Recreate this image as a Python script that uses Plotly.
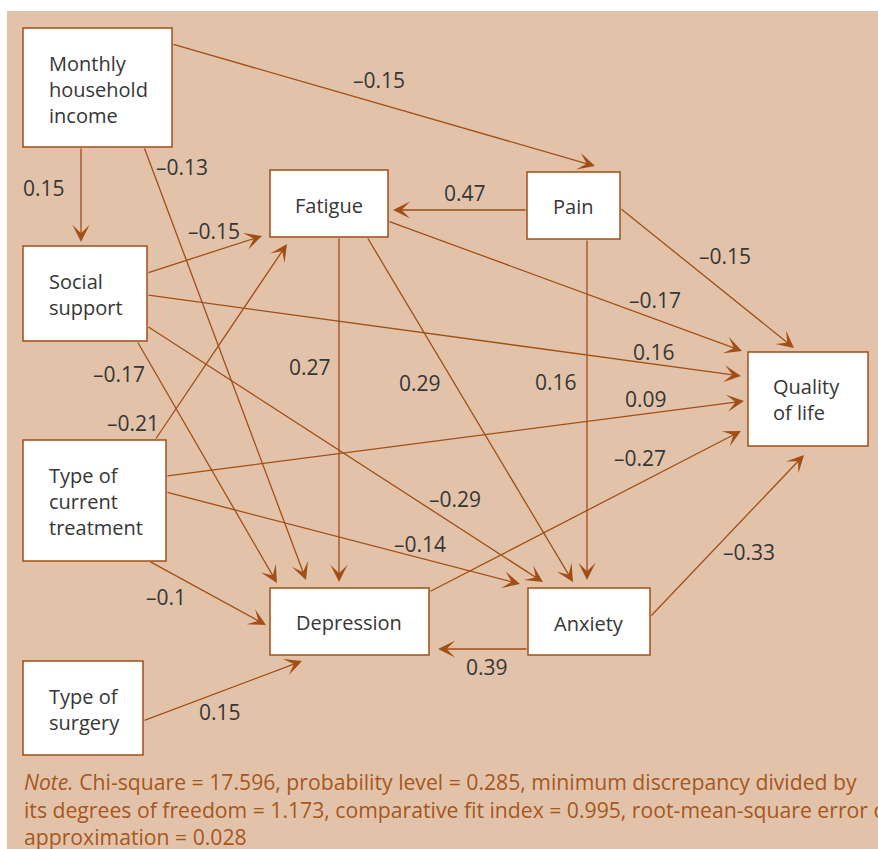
import plotly.graph_objects as go

# ---------------- data ----------------
node_names = ["income", "social", "treatment", "surgery", "fatigue", "pain",
              "depression", "anxiety", "qol"]
node_labels = ["Monthly<br>household<br>income", "Social<br>support",
               "Type of<br>current<br>treatment", "Type of<br>surgery",
               "Fatigue", "Pain", "Depression", "Anxiety", "Quality<br>of life"]

path_from = ["income", "income", "income", "social", "social", "social", "social",
             "treatment", "treatment", "treatment", "treatment", "surgery",
             "fatigue", "fatigue", "fatigue", "pain", "pain", "pain",
             "depression", "anxiety", "anxiety"]
path_to = ["pain", "social", "depression", "fatigue", "qol", "anxiety", "depression",
           "fatigue", "qol", "anxiety", "depression", "depression",
           "depression", "anxiety", "qol", "fatigue", "qol", "anxiety",
           "qol", "qol", "depression"]
coefficients = ["–0.15", "0.15", "–0.13", "–0.15", "0.16", "–0.29", "–0.17",
                "–0.21", "0.09", "–0.14", "–0.1", "0.15",
                "0.27", "0.29", "–0.17", "0.47", "–0.15", "0.16",
                "–0.27", "–0.33", "0.39"]

note_lines = [
    "<i>Note.</i> Chi-square = 17.596, probability level = 0.285, minimum discrepancy divided by",
    "its degrees of freedom = 1.173, comparative fit index = 0.995, root-mean-square error of",
    "approximation = 0.028",
]

# ---------------- layout geometry (pixel canvas) ----------------
boxes = {
    "income": (23, 28, 172, 147),
    "social": (23, 246, 147, 341),
    "treatment": (23, 440, 166, 561),
    "surgery": (23, 661, 143, 755),
    "fatigue": (270, 170, 388, 237),
    "pain": (527, 172, 620, 239),
    "depression": (270, 588, 429, 655),
    "anxiety": (528, 588, 650, 655),
    "qol": (748, 352, 868, 446),
}
label_pos = {  # (x, y, anchor)
    "income": (47, 89, "left"),
    "social": (47, 294, "left"),
    "treatment": (47, 501, "left"),
    "surgery": (47, 709, "left"),
    "fatigue": (329, 205, "center"),
    "pain": (573, 206, "center"),
    "depression": (349, 622, "center"),
    "anxiety": (589, 623, "center"),
    "qol": (771, 399, "left"),
}
# (tail x, tail y, tip x, tip y, coef label x, coef label y)
path_geom = [
    (172, 44, 595, 166, 379, 80),
    (81, 147, 81, 242, 44, 188),
    (144, 147, 306, 580, 182, 167),
    (147, 273, 262, 236, 214, 231),
    (147, 295, 741, 376, 654, 352),
    (147, 326, 543, 582, 455, 499),
    (137, 341, 277, 583, 119, 374),
    (155, 440, 287, 244, 133, 423),
    (166, 476, 744, 401, 646, 399),
    (166, 492, 520, 584, 420, 544),
    (149, 561, 266, 625, 166, 597),
    (143, 721, 302, 661, 220, 712),
    (339, 237, 339, 582, 310, 367),
    (367, 237, 573, 582, 420, 383),
    (388, 221, 742, 351, 655, 300),
    (527, 210, 393, 210, 465, 193),
    (620, 208, 794, 348, 725, 256),
    (587, 239, 587, 580, 556, 382),
    (429, 592, 741, 431, 640, 458),
    (650, 617, 804, 455, 749, 552),
    (528, 649, 438, 649, 487, 667),
]

W, H = 878, 849
TAN = "#E2C3A9"
BROWN = "#A14F17"
TEXT = "#363636"
FONT = "Open Sans"

fig = go.Figure()
fig.add_trace(go.Scatter(x=[0, W], y=[0, H], mode="markers",
                         marker=dict(opacity=0), hoverinfo="skip", showlegend=False))

shapes = [dict(type="rect", x0=7, y0=11, x1=W + 5, y1=H + 5, xref="x", yref="y",
               fillcolor=TAN, line=dict(width=0), layer="below")]
annotations = []

for (tx, ty, hx, hy, lx, ly), coef in zip(path_geom, coefficients):
    annotations.append(dict(x=hx, y=hy, ax=tx, ay=ty, xref="x", yref="y",
                            axref="x", ayref="y", text="", showarrow=True,
                            arrowhead=3, arrowsize=2.2, arrowwidth=1.3,
                            arrowcolor=BROWN, standoff=0, startstandoff=0))
    annotations.append(dict(x=lx, y=ly, xref="x", yref="y", text=coef,
                            showarrow=False, font=dict(family=FONT, size=21, color=TEXT),
                            xanchor="center", yanchor="middle"))

for name, lab in zip(node_names, node_labels):
    x0, y0, x1, y1 = boxes[name]
    shapes.append(dict(type="rect", x0=x0, y0=y0, x1=x1, y1=y1, xref="x", yref="y",
                       fillcolor="white", line=dict(color=BROWN, width=1.5),
                       layer="above"))
    px, py, anc = label_pos[name]
    annotations.append(dict(x=px, y=py, xref="x", yref="y", text=lab,
                            showarrow=False, align=anc, xanchor=anc, yanchor="middle",
                            font=dict(family=FONT, size=20, color=TEXT)))

annotations.append(dict(x=22, y=809, xref="x", yref="y", text="<br>".join(note_lines),
                        showarrow=False, xanchor="left", yanchor="middle", align="left",
                        font=dict(family=FONT, size=21.2, color="#A6571F")))

fig.update_layout(
    width=W, height=H, margin=dict(l=0, r=0, t=0, b=0),
    paper_bgcolor="white", plot_bgcolor="white",
    xaxis=dict(range=[0, W], visible=False, fixedrange=True),
    yaxis=dict(range=[H, 0], visible=False, fixedrange=True),
    shapes=shapes, annotations=annotations, showlegend=False,
)
fig.write_html("out.html", config={"displayModeBar": False},
               post_script="document.body.style.margin='0';document.body.style.overflow='hidden';")
